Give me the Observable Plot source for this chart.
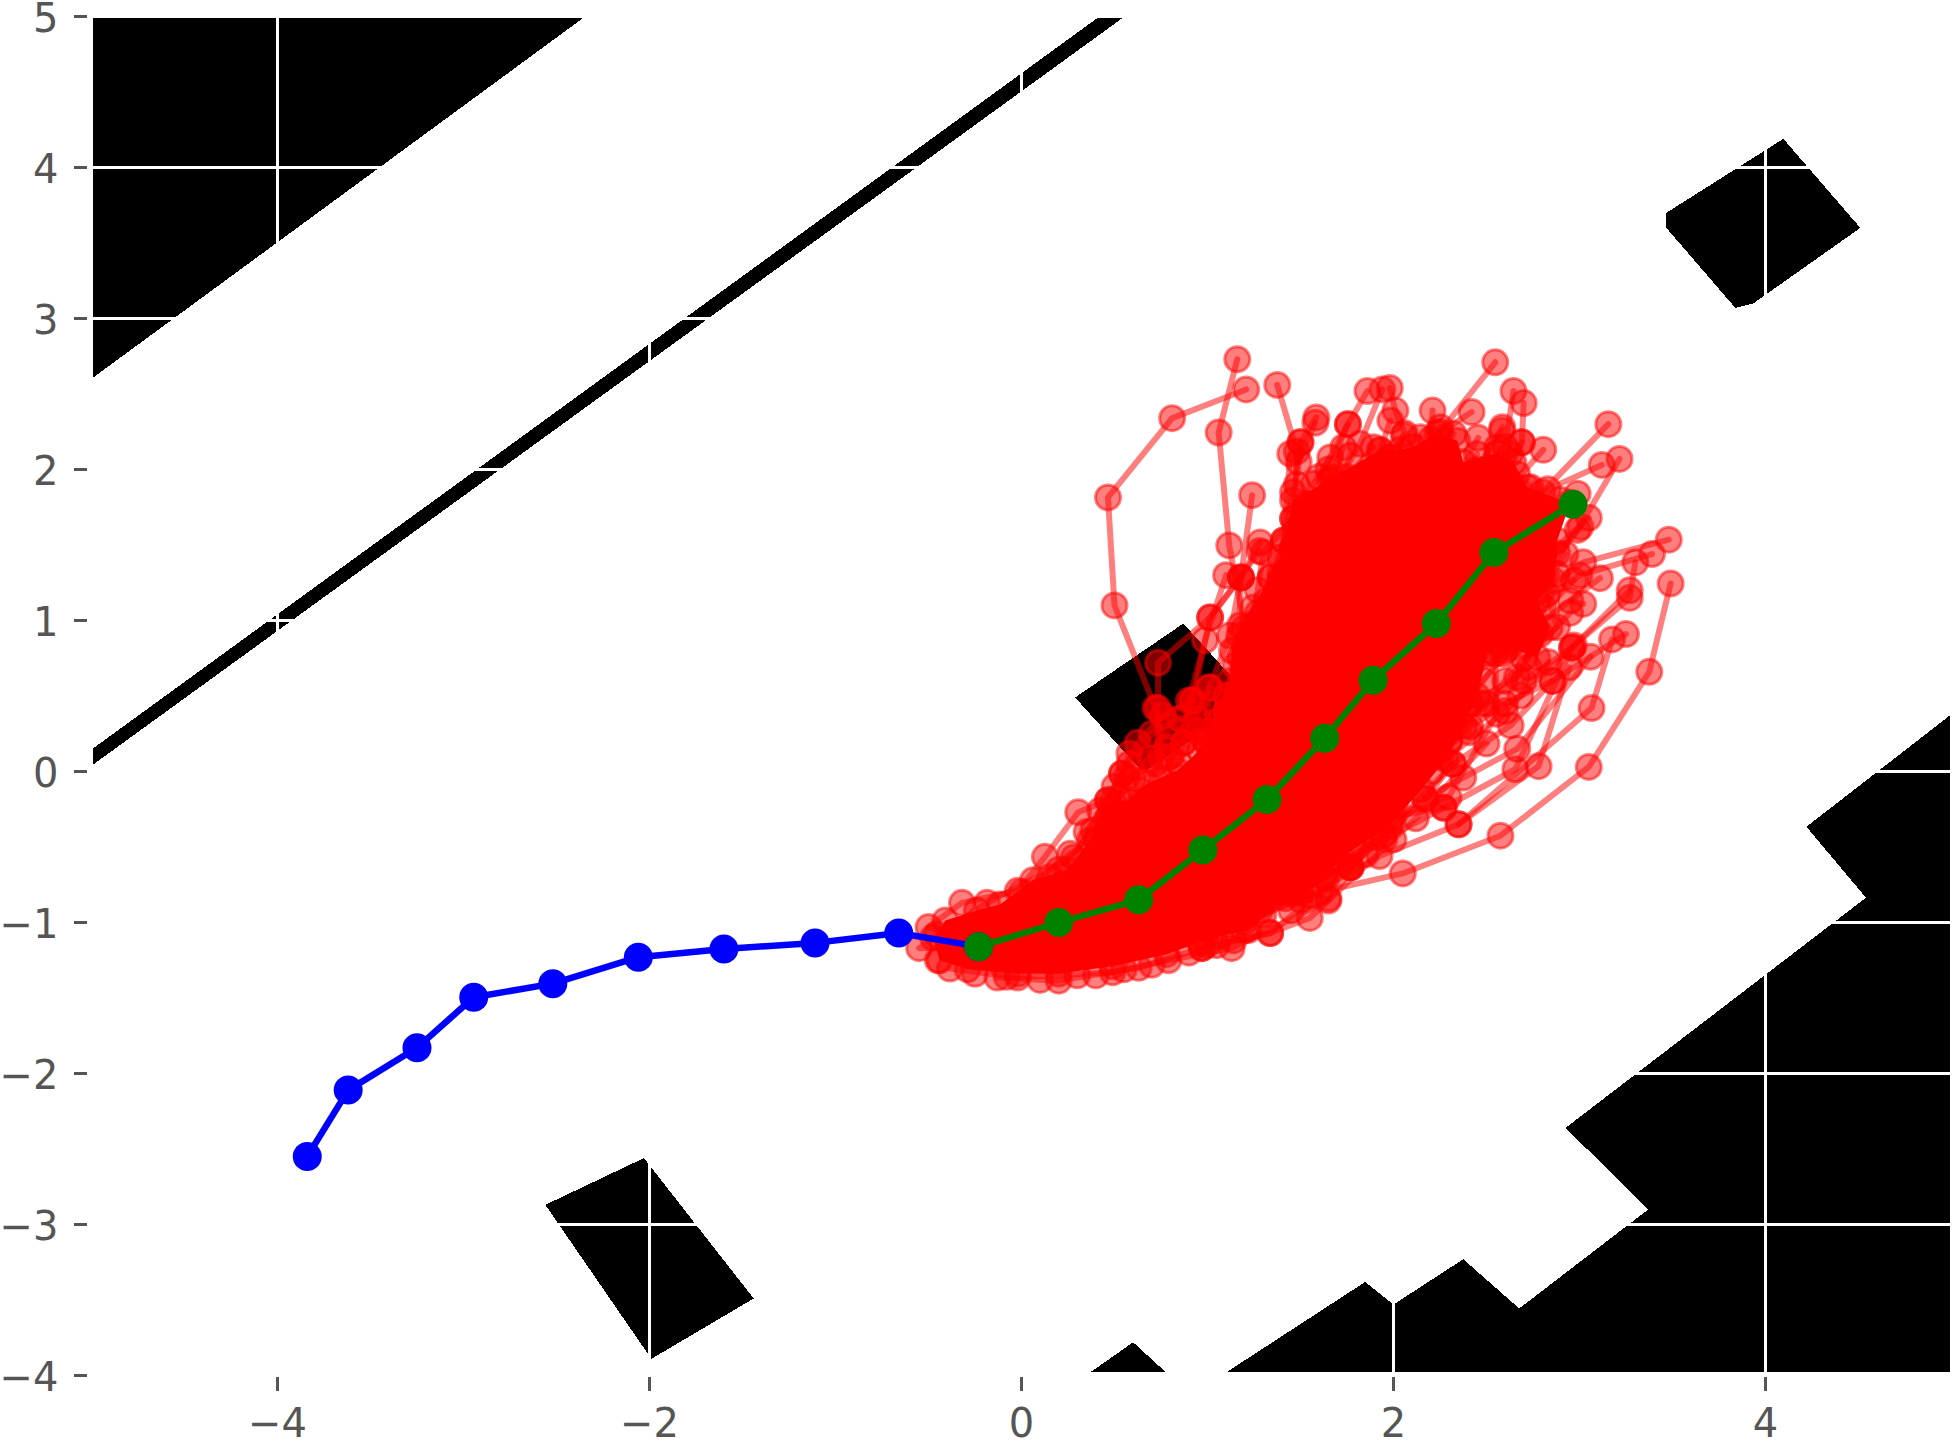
<!DOCTYPE html>
<html><head><meta charset="utf-8">
<style>html,body{margin:0;padding:0;background:#fff}svg{display:block}</style>
<script src="https://cdn.jsdelivr.net/npm/d3@7"></script>
<script src="https://cdn.jsdelivr.net/npm/@observablehq/plot@0.6"></script>
</head><body><div id="chart"></div>
<script>
const xTicks=[-4,-2,0,2,4];
const yTicks=[-4,-3,-2,-1,0,1,2,3,4,5];
const obstacleTopLeft=[[-4.99,4.987],[-2.36,4.987],[-4.99,2.61]];
const obstacleBand=[[-4.99,0.154],[0.405,4.987],[0.54,4.987],[-4.99,0.047]];
const obstacleUpperRight=[[3.467,3.70],[3.467,3.60],[3.838,3.07],[3.935,3.10],[4.51,3.60],[4.096,4.19]];
const obstacleCentre=[[0.288,0.49],[0.87,0.98],[1.236,0.483],[0.654,-0.007]];
const obstacleLowerLeft=[[-2.56,-2.87],[-2.03,-2.56],[-1.44,-3.49],[-1.99,-3.89]];
const obstacleSmallPeak=[[0.369,-3.98],[0.60,-3.78],[0.777,-3.98]];
const obstacleLowerRight=[[1.10,-3.98],[1.848,-3.38],[2.0,-3.53],[2.375,-3.23],[2.676,-3.556],[3.37,-2.90],[2.925,-2.36],[4.54,-0.836],[4.22,-0.366],[4.99,0.37],[4.99,-3.98]];
const blueTrack=[[-3.84,-2.55],[-3.62,-2.11],[-3.25,-1.83],[-2.945,-1.495],[-2.52,-1.405],[-2.06,-1.23],[-1.60,-1.175],[-1.11,-1.135],[-0.66,-1.07],[-0.23,-1.16]];
const greenTrack=[[-0.23,-1.16],[0.20,-1.00],[0.63,-0.85],[0.975,-0.52],[1.32,-0.185],[1.63,0.22],[1.89,0.605],[2.23,0.98],[2.54,1.45],[2.965,1.77]];
// Where the red samples overlap so heavily that they saturate to solid red.
const redSaturated=[[-0.476,-1.10],[-0.455,-1.08],[-0.41,-0.987],[-0.24,-0.92],[-0.116,-0.88],[0.062,-0.72],[0.245,-0.65],[0.368,-0.457],[0.422,-0.258],[0.492,-0.192],[0.568,-0.192],[0.675,-0.08],[0.836,0.007],[0.96,0.14],[0.998,0.27],[1.12,0.60],[1.132,0.80],[1.175,0.967],[1.245,1.086],[1.39,1.417],[1.46,1.795],[1.676,1.947],[1.928,2.13],[2.036,2.13],[2.106,2.15],[2.235,2.24],[2.343,2.19],[2.375,2.05],[2.558,2.11],[2.644,2.05],[2.72,1.88],[2.897,1.80],[2.95,1.78],[2.88,1.53],[2.88,1.444],[2.86,1.265],[2.773,1.132],[2.84,0.954],[2.773,0.755],[2.628,0.82],[2.504,0.781],[2.45,0.5],[2.38,0.3],[2.28,0.08],[2.15,-0.12],[1.98,-0.36],[1.78,-0.52],[1.62,-0.7],[1.42,-0.84],[1.22,-1.05],[1.07,-1.09],[0.96,-1.13],[0.78,-1.21],[0.49,-1.29],[0.2,-1.34],[-0.02,-1.34],[-0.29,-1.31],[-0.44,-1.25]];
const redRim=[[-0.45,-1.25],[-0.25,-1.34],[-0.08,-1.36],[0.1,-1.38],[0.3,-1.35],[0.4,-1.35],[0.55,-1.31],[0.7,-1.28],[0.9,-1.2],[1.05,-1.15],[1.2,-1.05],[1.45,-0.92],[1.85,-0.55],[2.0,-0.45]];
const redTracks=[
[[1.16,2.73],[1.06,2.245],[1.117,1.497],[1.2,0.95],[1.2,0.45],[1.05,-0.05],[0.8,-0.45],[0.45,-0.8],[0.1,-1.03],[-0.23,-1.16]],
[[1.208,2.53],[0.81,2.34],[0.465,1.815],[0.50,1.10],[0.72,0.42],[0.75,-0.05],[0.6,-0.5],[0.35,-0.85],[0.07,-1.05],[-0.23,-1.16]],
[[1.375,2.56],[1.48,2.12],[1.46,1.675],[1.34,1.285],[1.2,0.85],[1.0,0.2],[0.7,-0.4],[0.3,-0.85],[-0.23,-1.16]],
[[1.585,2.345],[1.50,2.18],[1.46,1.85],[1.41,1.53],[1.28,1.0],[1.1,0.4],[0.8,-0.2],[0.35,-0.75],[-0.23,-1.16]],
[[1.58,2.31],[1.49,2.05],[1.445,2.105],[1.41,1.53],[1.3,1.0],[1.1,0.4]],
[[1.86,2.52],[1.755,2.30],[1.65,2.0],[1.5,1.5],[1.3,1.0]],
[[1.94,2.53],[1.82,2.17],[1.6,1.7]],
[[1.98,2.54],[2.01,2.39],[2.06,2.24],[1.95,1.9],[1.7,1.4]],
[[1.24,1.83],[1.18,1.285],[1.17,0.9],[1.1,0.5]],
[[1.283,1.516],[1.18,1.285],[1.014,1.02],[0.92,0.47],[0.8,0.1]],
[[1.28,1.46],[1.014,1.02],[0.734,0.72],[0.734,0.42],[0.75,0.1],[0.6,-0.4],[0.3,-0.8],[-0.23,-1.16]],
[[1.10,1.30],[0.987,0.87],[0.9,0.47],[0.87,0.19],[0.7,-0.3],[0.3,-0.8],[-0.23,-1.16]],
[[1.18,1.285],[1.12,0.90],[1.01,0.556],[0.99,0.2],[0.75,-0.3],[0.3,-0.75]],
[[1.46,1.675],[1.3,1.45],[1.27,1.2],[1.2,0.8]],
[[1.34,1.285],[1.27,1.05],[1.15,0.7]],
[[2.547,2.71],[2.25,2.25],[2.1,1.8],[1.9,1.3],[1.6,0.7],[1.2,0.1],[0.8,-0.45],[0.35,-0.9],[-0.23,-1.16]],
[[2.645,2.52],[2.6,2.15],[2.4,1.7],[2.1,1.2],[1.7,0.6],[1.3,0],[0.8,-0.5],[0.3,-0.9],[-0.23,-1.16]],
[[2.70,2.44],[2.69,2.18],[2.5,1.75],[2.2,1.2],[1.8,0.6]],
[[2.42,2.38],[2.2,2.2],[2.0,1.75],[1.8,1.2]],
[[2.21,2.39],[2.2,2.1],[2.0,1.6]],
[[3.155,2.30],[2.80,1.85],[2.5,1.35],[2.1,0.85],[1.7,0.35]],
[[3.215,2.07],[2.99,1.6],[2.7,1.2],[2.3,0.7],[1.9,0.2]],
[[3.12,2.03],[2.83,1.87],[2.5,1.4],[2.1,0.9]],
[[3.48,1.535],[3.02,1.385],[2.7,1.1],[2.3,0.6],[1.8,0.1],[1.3,-0.35],[0.8,-0.75],[0.3,-1.0],[-0.23,-1.16]],
[[3.39,1.44],[3.0,1.3],[2.6,0.95],[2.2,0.5]],
[[3.30,1.385],[3.27,1.15],[2.97,0.835],[2.6,0.4],[2.2,0]],
[[3.27,1.20],[2.96,0.82],[2.655,0.015],[2.27,-0.24],[1.95,-0.45],[1.5,-0.8]],
[[3.49,1.245],[3.375,0.66],[3.05,0.03],[2.575,-0.425],[2.05,-0.675],[1.6,-0.8],[1.15,-0.95],[0.7,-1.05],[0.2,-1.12],[-0.23,-1.16]],
[[3.175,0.875],[3.065,0.42],[2.35,-0.35],[1.925,-0.56],[1.5,-0.85],[1.0,-1.05]],
[[2.945,0.69],[2.78,0.035],[2.35,-0.35]],
[[3.25,0.91],[2.855,0.60],[2.63,0.305],[2.32,0.05],[1.945,-0.425],[1.5,-0.8]],
[[3.06,0.76],[2.665,0.15],[2.375,-0.04],[2.17,-0.18],[1.77,-0.635],[1.337,-1.07],[0.97,-1.17]],
[[2.5,0.185],[2.12,-0.31],[1.55,-0.97],[1.337,-1.07],[0.97,-1.17],[0.63,-1.30],[0.20,-1.385],[-0.13,-1.365],[-0.23,-1.16]],
[[2.41,0.26],[2.24,0.125],[1.65,-0.855],[1.13,-1.17],[0.79,-1.25],[0.49,-1.33],[-0.02,-1.365],[-0.385,-1.305],[-0.23,-1.16]],
[[2.95,1.05],[2.6,0.6],[2.3,0.2]],
[[2.97,1.265],[2.6,0.8],[2.2,0.4]],
[[3.11,1.28],[2.7,0.9],[2.4,0.5]],
[[3.005,1.62],[2.8,1.3],[2.5,0.9]],
[[3.05,1.68],[2.8,1.4]],
[[2.585,2.28],[2.4,1.9]],
[[2.455,2.21],[2.3,1.85]],
[[2.69,2.18],[2.55,1.8]],
[[2.805,2.13],[2.6,1.85]],
[[2.99,1.84],[2.8,1.6]],
[[1.50,2.18],[1.48,1.9]],
[[1.755,2.30],[1.6,1.95]],
[[2.27,-0.24],[2.0,-0.3]],
[[2.32,0.05],[2.17,-0.18]],
[[2.47,0.45],[2.3,0.2]],
[[2.855,0.60],[2.6,0.45]],
[[2.96,0.82],[2.7,0.6]],
[[1.65,-0.84],[1.55,-0.82],[1.2,-1.0]],
[[1.77,-0.635],[1.63,-0.70],[1.3,-0.95]],
[[0.465,-0.19],[0.305,-0.27],[0.126,-0.565],[-0.02,-0.79],[-0.32,-0.87],[-0.50,-1.03],[-0.23,-1.16]],
[[0.58,0.12],[0.54,-0.015],[0.28,-0.57],[-0.185,-0.87],[-0.55,-1.17],[-0.23,-1.16]],
[[0.92,0.47],[0.76,0.37],[0.625,0.19],[0.54,-0.015],[0.35,-0.4]],
[[1.01,0.556],[0.87,0.19],[0.69,0.085],[0.465,-0.19]],
[[0.99,0.2],[0.8,0.3],[0.72,0.05],[0.5,-0.1]],
[[1.05,0.4],[0.85,0.35],[0.7,0.25],[0.58,0.05]],
[[0.95,0.35],[0.85,0.05],[0.6,-0.05]],
[[1.1,0.5],[0.95,0.27],[0.78,0.16]],
[[2.79,0.912],[2.664,0.625],[2.413,0.448],[2.216,0.25],[2.0,-0.1]],
[[2.718,0.912],[2.592,0.779],[2.485,0.603],[2.323,0.36],[2.144,0.073],[1.95,-0.25]],
[[2.61,0.868],[2.547,0.779],[2.556,0.382],[2.296,-0.17],[1.983,-0.325],[1.713,-0.545],[1.4,-0.8]],
[[2.834,0.724],[2.682,0.503],[2.413,0.3],[2.09,-0.015],[1.902,-0.435],[1.641,-0.70],[1.283,-0.92],[0.996,-1.15]],
[[2.727,0.691],[2.5,0.45],[2.25,0.1],[2.009,-0.203],[1.767,-0.633],[1.462,-0.81],[1.14,-1.119]],
[[2.807,1.088],[2.754,0.933],[2.628,0.845],[2.52,0.8],[2.35,0.55]],
[[2.879,1.309],[2.825,1.176],[2.879,0.956],[2.7,0.75]],
[[2.951,1.132],[3.02,1.11]],
[[2.924,1.441],[2.8,1.2]],
[[1.983,2.324],[1.929,2.125],[1.8,1.9]],
[[2.054,2.225],[1.983,2.08],[1.85,1.85]],
[[2.144,2.214],[2.05,2.0]],
[[2.252,2.28],[2.15,2.05]],
[[2.323,2.236],[2.2,2.0]],
[[2.449,2.103],[2.35,1.9]],
[[2.556,2.148],[2.494,1.883],[2.4,1.7]],
[[2.583,2.258],[2.45,2.0]],
[[2.628,2.103],[2.55,1.9]],
[[2.664,1.971],[2.736,1.883],[2.6,1.6]],
[[1.66,2.08],[1.57,1.905],[1.534,1.772],[1.463,1.485],[1.391,1.265],[1.319,1.132],[1.247,0.978],[1.176,0.757]],
[[1.73,2.148],[1.66,1.927],[1.534,1.618],[1.391,1.309],[1.3,1.05]],
[[1.767,2.092],[1.7,1.9],[1.55,1.5]],
[[1.893,2.148],[1.75,1.95]],
[[1.983,2.08],[1.85,1.85]],
[[0.566,-0.037],[0.467,-0.302],[0.404,-0.457],[0.261,-0.545],[0,-0.8]],
[[0.637,-0.125],[0.548,-0.214],[0.386,-0.39],[0.2,-0.65]],
[[0.422,-0.545],[0.15,-0.7]]
];
const toRows=(pts,id)=>pts.map(([x,y])=>({x,y,id}));
const obstacles=[obstacleTopLeft,obstacleBand,obstacleUpperRight,obstacleCentre,obstacleLowerLeft,obstacleSmallPeak,obstacleLowerRight].flatMap((p,i)=>toRows(p,i));
const redRows=redTracks.flatMap((p,i)=>toRows(p,i));
const redDots=[...redRows,...toRows(redSaturated,-1),...toRows(redRim,-2)];
const grey="#555555";
const fmt=d=>d<0?"\u2212"+Math.abs(d):String(d);
const chart=Plot.plot({
  width:1954,height:1446,marginLeft:91,marginRight:3,marginTop:16,marginBottom:71,
  style:{fontFamily:"'DejaVu Sans'",background:"#fff"},
  x:{domain:[-5,5]},y:{domain:[-4,5]},
  marks:[
    Plot.line(obstacles,{x:"x",y:"y",z:"id",fill:"black",stroke:"none",curve:"linear-closed",shapeRendering:"crispEdges"}),
    Plot.gridX(xTicks,{stroke:"white",strokeOpacity:1,strokeWidth:3}),
    Plot.gridY(yTicks,{stroke:"white",strokeOpacity:1,strokeWidth:3}),
    Plot.line(redRows,{x:"x",y:"y",z:"id",stroke:"red",strokeOpacity:0.5,strokeWidth:6,curve:"linear"}),
    Plot.dot(redDots,{x:"x",y:"y",r:12.5,fill:"red",fillOpacity:0.5,stroke:"red",strokeOpacity:0.5,strokeWidth:3}),
    Plot.line(toRows(redSaturated,0),{x:"x",y:"y",fill:"red",stroke:"none",curve:"linear-closed"}),
    Plot.line(toRows(blueTrack,0),{x:"x",y:"y",stroke:"blue",strokeWidth:6.5}),
    Plot.dot(toRows(blueTrack,0),{x:"x",y:"y",r:14.5,fill:"blue"}),
    Plot.line(toRows(greenTrack,0),{x:"x",y:"y",stroke:"green",strokeWidth:6.5}),
    Plot.dot(toRows(greenTrack,0),{x:"x",y:"y",r:14.5,fill:"green"}),
    Plot.axisX({ticks:xTicks,tickSize:14,dy:2,stroke:grey,strokeWidth:3,strokeOpacity:1,fill:"none",label:null,tickFormat:()=>""}),
    Plot.axisY({ticks:yTicks,tickSize:13,dx:-4,stroke:grey,strokeWidth:3,strokeOpacity:1,fill:"none",label:null,tickFormat:()=>""}),
    Plot.axisX({ticks:xTicks,tickSize:0,tickPadding:33,fontSize:40,fill:grey,label:null,tickFormat:fmt}),
    Plot.axisY({ticks:yTicks,tickSize:0,tickPadding:33,dy:2.5,fontSize:40,fill:grey,label:null,tickFormat:fmt})
  ]
});
document.getElementById("chart").append(chart);
</script></body></html>
